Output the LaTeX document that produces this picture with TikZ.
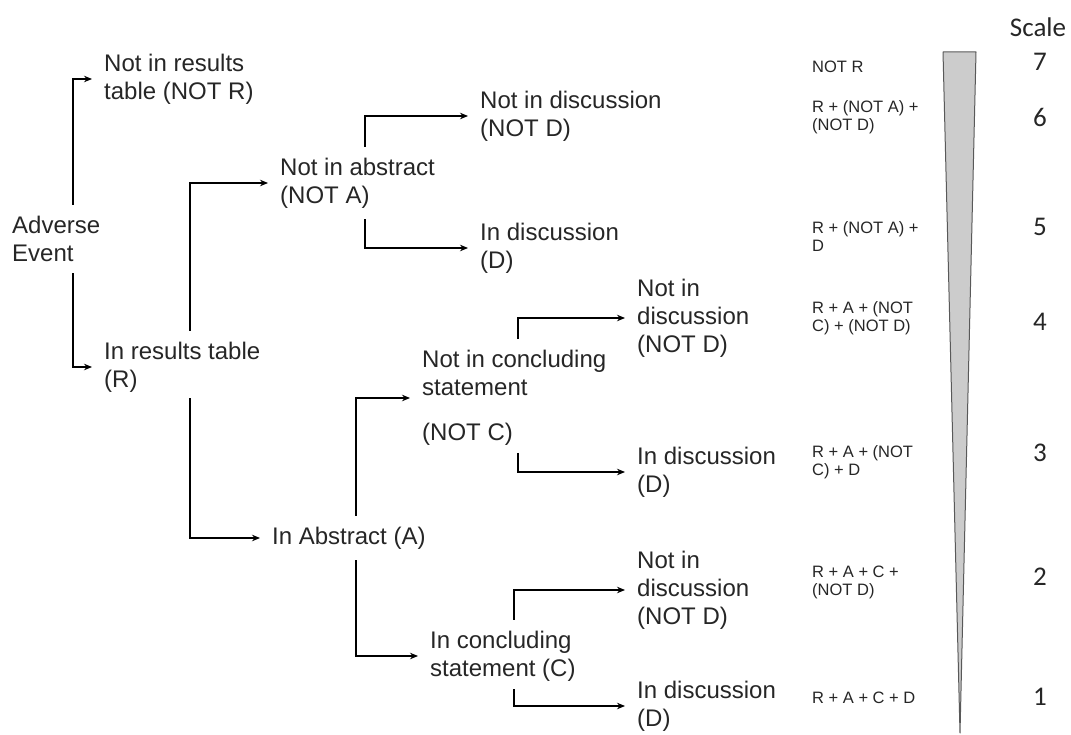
\documentclass[tikz,border=0pt]{standalone}
\usepackage{fontspec}
\setmainfont{Liberation Sans}
\newfontfamily\scalefont{Carlito}
\usetikzlibrary{arrows.meta}
\tikzset{>={Stealth[length=8pt,width=6.5pt]}}
\tikzset{lbl/.style={anchor=west,inner sep=0pt,align=left,text=black!85,font=\fontsize{24}{28}\selectfont}}
\tikzset{sum/.style={anchor=west,inner sep=0pt,align=left,text=black!85,font=\fontsize{16.5}{18}\selectfont}}
\tikzset{num/.style={inner sep=0pt,text=black!85,font=\scalefont\fontsize{27}{30}\selectfont}}
\tikzset{conn/.style={->,line width=1.1pt,shorten <=11pt,shorten >=12pt}}

\begin{document}
\begin{tikzpicture}[x=1pt,y=-1pt]
  \useasboundingbox (0,0) rectangle (1071,735);
  % tree
  \node[lbl] (ae) at (12,239) {Adverse\\Event};
  \node[lbl] (notr) at (104,79) {Not in results\\table (NOT R)};
  \node[lbl] (r) at (104,367) {In results table\\(R)};
  \node[lbl] (nota) at (280,183) {Not in abstract\\(NOT A)};
  \node[lbl] (abs) at (272,538) {In Abstract (A)};
  \node[lbl] (notand) at (480,116) {Not in discussion\\(NOT D)};
  \node[lbl] (notad) at (480,248) {In discussion\\(D)};
  \node[lbl] (notc) at (422,398) {Not in concluding\\statement\\[17pt](NOT C)};
  \node[lbl] (notcnd) at (637,318) {Not in\\discussion\\(NOT D)};
  \node[lbl] (notcd) at (637,472) {In discussion\\(D)};
  \node[lbl] (c) at (430,656) {In concluding\\statement (C)};
  \node[lbl] (cnd) at (637,590) {Not in\\discussion\\(NOT D)};
  \node[lbl] (cd) at (637,706) {In discussion\\(D)};
  \draw[conn] ([xshift=61pt]ae.north west) |- (notr.west);
  \draw[conn] ([xshift=61pt]ae.south west) |- (r.west);
  \draw[conn] ([xshift=86pt]r.north west) |- (nota.west);
  \draw[conn,shorten <=6pt] ([xshift=86pt]r.south west) |- (abs.west);
  \draw[conn] ([xshift=85pt]nota.north west) |- (notand.west);
  \draw[conn] ([xshift=85pt]nota.south west) |- (notad.west);
  \draw[conn] ([xshift=84pt]abs.north west) |- (notc.west);
  \draw[conn] ([xshift=84pt]abs.south west) |- (c.west);
  \draw[conn] ([xshift=96pt]notc.north west) |- (notcnd.west);
  \draw[conn,shorten <=7pt] ([xshift=96pt]notc.south west) |- (notcd.west);
  \draw[conn] ([xshift=84pt]c.north west) |- (cnd.west);
  \draw[conn,shorten <=8pt] ([xshift=84pt]c.south west) |- (cd.west);
  % scale
  \draw[black!65,fill=black!20,line width=1pt,line join=round] (943,52) -- (976,52) -- (960,733) -- cycle;
  \node[num] (scale) at (1038,27) {Scale};
  \node[sum] (s7) at (812,67) {NOT R};
  \node[sum] (s6) at (812,117) {R + (NOT A) +\\(NOT D)};
  \node[sum] (s5) at (812,237) {R + (NOT A) +\\D};
  \node[sum] (s4) at (812,318) {R + A + (NOT\\C) + (NOT D)};
  \node[sum] (s3) at (812,462) {R + A + (NOT\\C) + D};
  \node[sum] (s2) at (812,582) {R + A + C +\\(NOT D)};
  \node[sum] (s1) at (812,698) {R + A + C + D};
  \foreach \n/\y in {7/62,6/117,5/227,4/322,3/453,2/577,1/697}
    \node[num] (n\n) at (1040,\y) {\n};
\end{tikzpicture}
\end{document}
